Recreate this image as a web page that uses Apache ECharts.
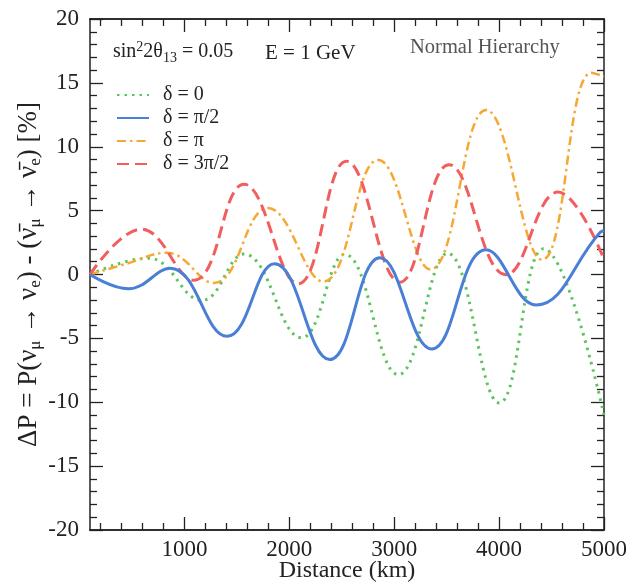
<!DOCTYPE html>
<html>
<head>
<meta charset="utf-8">
<script src="https://cdn.jsdelivr.net/npm/echarts@6/dist/echarts.min.js"></script>
<style>
html,body{margin:0;padding:0;background:#fff;}
#c{width:633px;height:583px;}
</style>
</head>
<body>
<div id="c"></div>
<script>
// ---- data: turning points of each curve (distance in km, ΔP in %) ----
const seriesNames = ['δ = 0', 'δ = π/2', 'δ = π', 'δ = 3π/2'];

const greenX = [100, 657, 1167, 1567, 2115, 2529, 3040, 3509, 4003, 4423, 5000];
const greenY = [0, 1.28, -2.02, 1.6, -4.95, 1.58, -7.84, 1.66, -10.05, 2.02, -11.0];

const blueX = [100, 466, 864, 1407, 1859, 2386, 2864, 3358, 3876, 4354, 4962, 5000];
const blueY = [0, -1.12, 0.48, -4.84, 0.85, -6.66, 1.32, -5.83, 1.93, -2.39, 3.29, 3.45];

const orangeX = [100, 450, 833, 1279, 1796, 2322, 2848, 3345, 3876, 4410, 4880, 5000];
const orangeY = [0, 0.85, 1.7, -0.66, 5.2, -0.55, 8.97, 0.4, 12.88, 1.15, 15.8, 15.5];

const redX = [100, 591, 1088, 1567, 2083, 2545, 3055, 3524, 4067, 4562, 5000];
const redY = [0, 3.55, -0.45, 7.07, -0.73, 8.87, -0.6, 8.6, -0.02, 6.45, 1.2];

const xMajorTicks = [1000, 2000, 3000, 4000, 5000];
const xMinorTicks = [200, 400, 600, 800, 1200, 1400, 1600, 1800, 2200, 2400, 2600, 2800, 3200, 3400, 3600, 3800, 4200, 4400, 4600, 4800];

// ---- chart ----
const FONT = '"Liberation Serif", "DejaVu Serif", serif';
const INK = '#222';

function pairs(xs, ys) { return xs.map((x, i) => [x, ys[i]]); }

const chart = echarts.init(document.getElementById('c'), null, {renderer: 'canvas'});

const baseX = {
  type: 'value', min: 100, max: 5000,
  splitLine: {show: false},
  axisLine: {show: true, onZero: false, lineStyle: {color: INK, width: 1.5}},
};
function xAxisDef(pos, ticks, len, withLabel) {
  return Object.assign({}, baseX, {
    position: pos,
    axisTick: {show: true, inside: true, length: len, customValues: ticks, lineStyle: {color: INK, width: 1.3}},
    axisLabel: withLabel ? {show: true, customValues: xMajorTicks, formatter: v => String(v), fontFamily: FONT, fontSize: 23, color: INK, margin: 8} : {show: false},
  });
}
function yAxisDef(pos, withLabel) {
  return {
    type: 'value', min: -20, max: 20, interval: 5, position: pos,
    splitLine: {show: false},
    axisLine: {show: true, onZero: false, lineStyle: {color: INK, width: 1.5}},
    axisTick: {show: true, inside: true, length: 13, lineStyle: {color: INK, width: 1.3}},
    minorTick: {show: true, splitNumber: 5, length: 7, lineStyle: {color: INK, width: 1.3}},
    axisLabel: withLabel ? {show: true, fontFamily: FONT, fontSize: 23, color: INK, margin: 11} : {show: false},
  };
}

const xAxes = [
  xAxisDef('bottom', xMajorTicks, 13, true),
  xAxisDef('bottom', xMinorTicks, 7, false),
  xAxisDef('top', xMajorTicks, 13, false),
  xAxisDef('top', xMinorTicks, 7, false),
];
xAxes[0].name = 'Distance (km)';
xAxes[0].nameLocation = 'middle';
xAxes[0].nameGap = 29;
xAxes[0].nameMoveOverlap = false;
xAxes[0].nameTextStyle = {fontFamily: FONT, fontSize: 24, color: INK};

const yAxes = [yAxisDef('left', true), yAxisDef('right', false)];
yAxes[0].name = '{n|ΔP = P(ν}{s|μ}{n| → ν}{s|e}{n|) - (ν\u0304}{s|μ}{n| → ν\u0304}{s|e}{n|) [%]}';
yAxes[0].nameLocation = 'middle';
yAxes[0].nameGap = 46;
yAxes[0].nameMoveOverlap = false;
yAxes[0].nameTextStyle = {
  fontFamily: FONT, fontSize: 27, color: INK,
  rich: {
    n: {fontFamily: FONT, fontSize: 27, color: INK},
    s: {fontFamily: FONT, fontSize: 17, color: INK, padding: [13, 0, 0, 0]}
  }
};

const colors = ['#5cc45c', '#4a7fd6', '#f5a833', '#f25e5e'];
const lineTypes = [[2.5, 5], 'solid', [9, 4, 2.5, 4], [12, 6]];
const widths = [3, 3, 2.5, 3];
const datas = [pairs(greenX, greenY), pairs(blueX, blueY), pairs(orangeX, orangeY), pairs(redX, redY)];

const series = seriesNames.map((name, i) => ({
  name: name, type: 'line', xAxisIndex: 0, yAxisIndex: 0,
  data: datas[i], smooth: 0.43, symbol: 'none', animation: false,
  lineStyle: {color: colors[i], width: widths[i], type: lineTypes[i], cap: 'butt'},
  itemStyle: {color: colors[i]},
  z: [2, 4, 3, 3][i]
}));

chart.setOption({
  animation: false,
  backgroundColor: '#fff',
  grid: {left: 90, right: 29, top: 19, bottom: 53, containLabel: false, outerBoundsMode: 'none'},
  xAxis: xAxes,
  yAxis: yAxes,
  legend: {
    orient: 'vertical', left: 116, top: 85, padding: 0,
    itemWidth: 32, itemHeight: 14, itemGap: 3,
    itemStyle: {opacity: 0},
    textStyle: {fontFamily: FONT, fontSize: 20, color: INK, padding: [0, 0, 0, 9]},
    data: seriesNames
  },
  graphic: [
    {type: 'text', left: 113, top: 40, style: {
      text: '{n|sin}{sup|2}{n|2θ}{sub|13}{n| = 0.05}',
      rich: {
        n: {fontFamily: FONT, fontSize: 20, fill: INK},
        sup: {fontFamily: FONT, fontSize: 14, fill: INK, padding: [0, 0, 10, 0]},
        sub: {fontFamily: FONT, fontSize: 14, fill: INK, padding: [12, 0, 0, 0]}
      }
    }},
    {type: 'text', left: 265, top: 43, style: {text: 'E = 1 GeV', font: '21px ' + FONT, fill: INK}},
    {type: 'text', left: 410, top: 37, style: {text: 'Normal Hierarchy', font: '20.5px ' + FONT, fill: '#555'}}
  ],
  series: series
});
</script>
</body>
</html>
